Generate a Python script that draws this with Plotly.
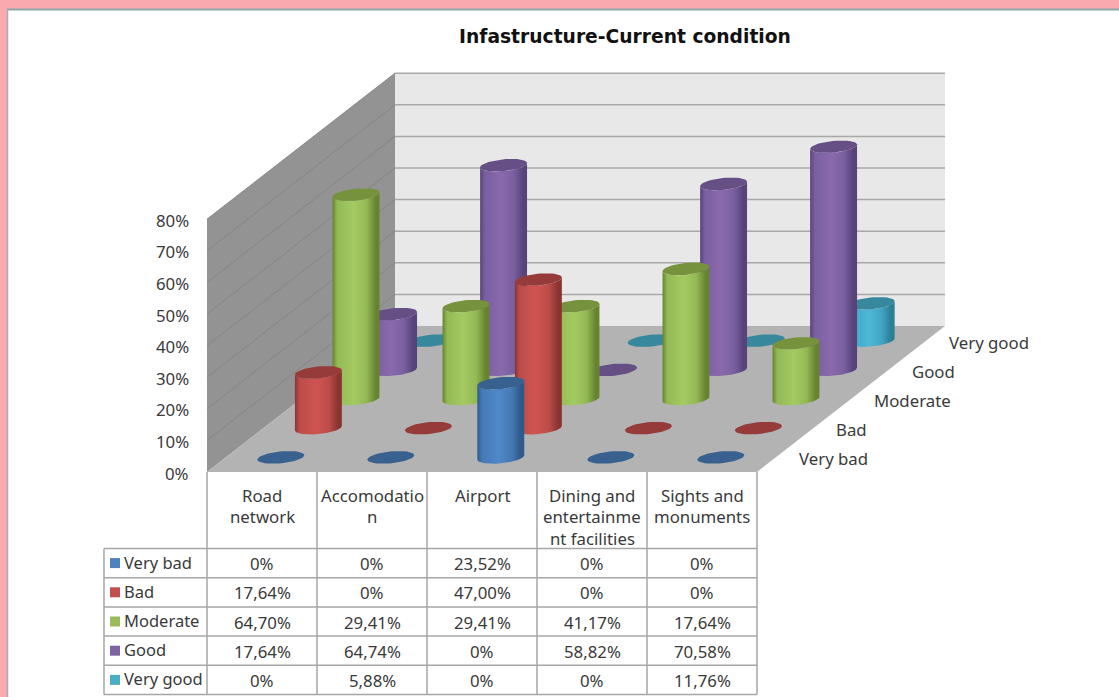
import math
import plotly.graph_objects as go

TITLE = "Infastructure-Current condition"
CATEGORIES = ["Road<br>network", "Accomodatio<br>n", "Airport",
              "Dining and<br>entertainme<br>nt facilities", "Sights and<br>monuments"]
SERIES = ["Very bad", "Bad", "Moderate", "Good", "Very good"]
VERY_BAD = [0, 0, 23.52, 0, 0]
BAD = [17.64, 0, 47.00, 0, 0]
MODERATE = [64.70, 29.41, 29.41, 41.17, 17.64]
GOOD = [17.64, 64.74, 0, 58.82, 70.58]
VERY_GOOD = [0, 5.88, 0, 0, 11.76]
VALUES = [VERY_BAD, BAD, MODERATE, GOOD, VERY_GOOD]
VALUE_TICKS = [0, 10, 20, 30, 40, 50, 60, 70, 80]

# (edge, mid-shade, highlight, cap, swatch)
PALETTE = [
    ("#2E5A8C", "#457AB5", "#5088C9", "#38618F", "#4F81BD"),
    ("#8A3432", "#BC4C49", "#CF5451", "#963B39", "#C0504D"),
    ("#66842F", "#93B955", "#A4CB62", "#76923C", "#9BBB59"),
    ("#57437A", "#7A5FA0", "#8A69AD", "#664F85", "#8064A2"),
    ("#2B7F96", "#42A5C4", "#4DB8D8", "#37879D", "#4BACC6"),
]

TEXT = "#3A3A3A"
FONT = "Noto Sans"
GRID_BACK = "#A8A8A8"
GRID_SIDE = "#858585"
TABLE_LINE = "#A6A6A6"

# Oblique projection of the chart box onto the pixel-sized axes
ORIGIN_X, ORIGIN_Y = 207.0, 472.0
CAT_W = 110.0
DEPTH_DX, DEPTH_DY = 37.6, -29.2
PX_PER_PCT = 3.16
R_CAT, R_DEPTH = 22.0, 10.3
N_CAT, N_SER = len(CATEGORIES), len(SERIES)
TOP = max(VALUE_TICKS)

# Table rows and columns
HEAD_BOTTOM = 548.5
ROW_H = 29.2
LEG_LEFT = 104.0
COL_LEFT = ORIGIN_X


def project(cat, depth, pct=0.0):
    return (ORIGIN_X + cat * CAT_W + depth * DEPTH_DX,
            ORIGIN_Y + depth * DEPTH_DY - pct * PX_PER_PCT)


def ring(cx, cy, t0, t1, n=48):
    ulen = math.hypot(DEPTH_DX, DEPTH_DY)
    ux, uy = DEPTH_DX / ulen, DEPTH_DY / ulen
    xs, ys = [], []
    for i in range(n + 1):
        t = t0 + (t1 - t0) * i / n
        xs.append(cx + R_CAT * math.cos(t) + R_DEPTH * math.sin(t) * ux)
        ys.append(cy + R_DEPTH * math.sin(t) * uy)
    return xs, ys


fig = go.Figure()


def polygon(xs, ys, color):
    fig.add_trace(go.Scatter(x=xs, y=ys, mode="lines", fill="toself", fillcolor=color,
                             line=dict(width=0), hoverinfo="skip", showlegend=False))


def segment(p, q, color, width):
    fig.add_trace(go.Scatter(x=[p[0], q[0]], y=[p[1], q[1]], mode="lines",
                             line=dict(color=color, width=width),
                             hoverinfo="skip", showlegend=False))


# Page frame
polygon([0, 1119, 1119, 0, 0], [0, 0, 697, 697, 0], "#FAAAAE")
polygon([7, 1119, 1119, 7, 7], [9, 9, 697, 697, 9], "#FFFFFF")
segment((7, 9.5), (1119, 9.5), "#8FA5A5", 2)
segment((7.5, 9), (7.5, 697), "#A9A9C4", 1.5)

# Walls and floor
f0, f1 = project(0, 0), project(N_CAT, 0)
b0, b1 = project(0, N_SER), project(N_CAT, N_SER)
polygon([f0[0], b0[0], b0[0], f0[0], f0[0]],
        [f0[1], b0[1], b0[1] - TOP * PX_PER_PCT, f0[1] - TOP * PX_PER_PCT, f0[1]], "#939393")
polygon([b0[0], b1[0], b1[0], b0[0], b0[0]],
        [b0[1], b1[1], b1[1] - TOP * PX_PER_PCT, b0[1] - TOP * PX_PER_PCT, b0[1]], "#E8E8E8")
polygon([f0[0], f1[0], b1[0], b0[0], f0[0]],
        [f0[1], f1[1], b1[1], b0[1], f0[1]], "#B3B3B3")

for tick in VALUE_TICKS[1:]:
    segment(project(0, 0, tick), project(0, N_SER, tick), GRID_SIDE, 1)
    segment(project(0, N_SER, tick), project(N_CAT, N_SER, tick), GRID_BACK, 1.5)

# Cylinders, drawn from the back row forward so nearer ones overlap
t_right = math.atan2(R_DEPTH * DEPTH_DX / math.hypot(DEPTH_DX, DEPTH_DY), R_CAT)
half_w = max(ring(0, 0, 0, 2 * math.pi)[0])
for s in reversed(range(N_SER)):
    edge, mid, high, cap, _ = PALETTE[s]
    for c in range(N_CAT):
        v = VALUES[s][c]
        bx, by = project(c + 0.5, s + 0.5)
        tx, ty = project(c + 0.5, s + 0.5, v)
        if v > 0:
            # bottom front arc runs right to left through the near side of the ring
            lx, ly = ring(bx, by, t_right, t_right - math.pi)
            ux, uy = ring(tx, ty, t_right - math.pi, t_right)
            fig.add_trace(go.Scatter(
                x=lx + ux + lx[:1], y=ly + uy + ly[:1], mode="lines", fill="toself",
                line=dict(width=0), hoverinfo="skip", showlegend=False,
                fillgradient=dict(
                    type="horizontal", start=bx - half_w, stop=bx + half_w,
                    colorscale=[[0, edge], [0.1, mid], [0.45, high], [0.72, mid],
                                [0.92, edge], [1, edge]])))
        ex, ey = ring(tx, ty, 0, 2 * math.pi)
        polygon(ex, ey, cap)

# Table: header cells, legend column and value rows
rows = N_SER
table_bottom = HEAD_BOTTOM + rows * ROW_H
col_edges = [COL_LEFT + i * CAT_W for i in range(N_CAT + 1)]
for x in col_edges:
    segment((x, ORIGIN_Y), (x, table_bottom), TABLE_LINE, 1.5)
segment((LEG_LEFT, HEAD_BOTTOM), (LEG_LEFT, table_bottom), TABLE_LINE, 1.5)
for r in range(rows + 1):
    y = HEAD_BOTTOM + r * ROW_H
    segment((LEG_LEFT, y), (col_edges[-1], y), TABLE_LINE, 1.5)


def fmt(v):
    return "0%" if v == 0 else f"{v:.2f}%".replace(".", ",")


notes = []


def text(x, y, s, anchor="center", size=16.8, family=FONT, color=TEXT):
    notes.append(dict(x=x, y=y, text=s, showarrow=False, xanchor=anchor, yanchor="middle",
                      xref="x", yref="y", font=dict(family=family, size=size, color=color)))


text(624.5, 36, f"<b>{TITLE}</b>", size=18.7, family="DejaVu Sans", color="#111111")

for tick in VALUE_TICKS:
    text(191, project(0, 0, tick)[1] + 1, f"{tick}%", anchor="right")

for s, name in enumerate(SERIES):
    px, py = project(N_CAT, s + 0.5)
    text(px + 21, py + 1.5, name, anchor="left")

for c, label in enumerate(CATEGORIES):
    cx = COL_LEFT + (c + 0.5) * CAT_W
    for i, line in enumerate(label.split("<br>")):
        text(cx, 495 + i * 21.7, line)

for s, name in enumerate(SERIES):
    y = HEAD_BOTTOM + (s + 0.5) * ROW_H
    sw = 5.0
    polygon([110, 120, 120, 110, 110],
            [y - sw, y - sw, y + sw, y + sw, y - sw], PALETTE[s][4])
    text(122, y - 1, name, anchor="left", size=16.5)
    for c in range(N_CAT):
        text(COL_LEFT + (c + 0.5) * CAT_W, y + 0.5, fmt(VALUES[s][c]))

fig.update_layout(
    width=1119, height=697, margin=dict(l=0, r=0, t=0, b=0),
    paper_bgcolor="#FFFFFF", plot_bgcolor="#FFFFFF", showlegend=False,
    xaxis=dict(range=[0, 1119], visible=False, fixedrange=True),
    yaxis=dict(range=[697, 0], visible=False, fixedrange=True),
    annotations=notes,
)
fig.write_html("out.html", config=dict(displayModeBar=False))
